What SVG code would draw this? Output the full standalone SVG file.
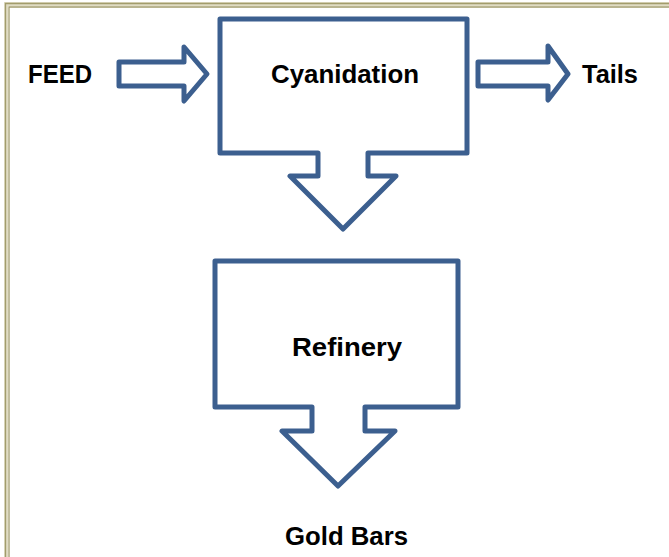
<svg xmlns="http://www.w3.org/2000/svg" width="669" height="557" viewBox="0 0 669 557">
<style>
.sh{fill:#fff;stroke:#3c5f8f;stroke-width:5;stroke-linejoin:round}
.t{font-family:"Liberation Sans",Arial,sans-serif;font-weight:bold;font-size:26px;fill:#000}
.bd{fill:none;stroke:#a29c6c;stroke-width:1.3}
</style>
<rect width="669" height="557" fill="#fff"/>
<g id="border">
<path d="M6,557 V4 H669" stroke="#e0dcc4" stroke-width="4" fill="none"/>
<path class="bd" d="M5.5,557 V3.5 H669"/>
<path class="bd" d="M9,557 V7 H669"/>
</g>
<g id="connectors">
<path id="feed-arrow" class="sh" d="M119,62 H184 V47 L207,74 L184,101 V86 H119 Z"/>
<path id="tails-arrow" class="sh" d="M478,62 H548 V46 L568,74 L548,100 V86 H478 Z"/>
</g>
<g id="cyanidation">
<path class="sh" d="M220,19 H467 V153 H368 V176 H396 L343,229 L290,176 H318 V153 H220 Z"/>
<text class="t" x="345" y="83" text-anchor="middle" textLength="148" lengthAdjust="spacingAndGlyphs">Cyanidation</text>
</g>
<g id="refinery">
<path class="sh" d="M215,261 H458 V407 H365 V431 H395 L338,486 L282,431 H312 V407 H215 Z"/>
<text class="t" x="347" y="356" text-anchor="middle" textLength="110" lengthAdjust="spacingAndGlyphs">Refinery</text>
</g>
<g id="feed">
<text class="t" x="28" y="83" textLength="64" lengthAdjust="spacingAndGlyphs">FEED</text>
</g>
<g id="tails">
<text class="t" x="582" y="83" textLength="56" lengthAdjust="spacingAndGlyphs">Tails</text>
</g>
<g id="gold-bars">
<text class="t" x="285" y="545" textLength="123" lengthAdjust="spacingAndGlyphs">Gold Bars</text>
</g>
</svg>
